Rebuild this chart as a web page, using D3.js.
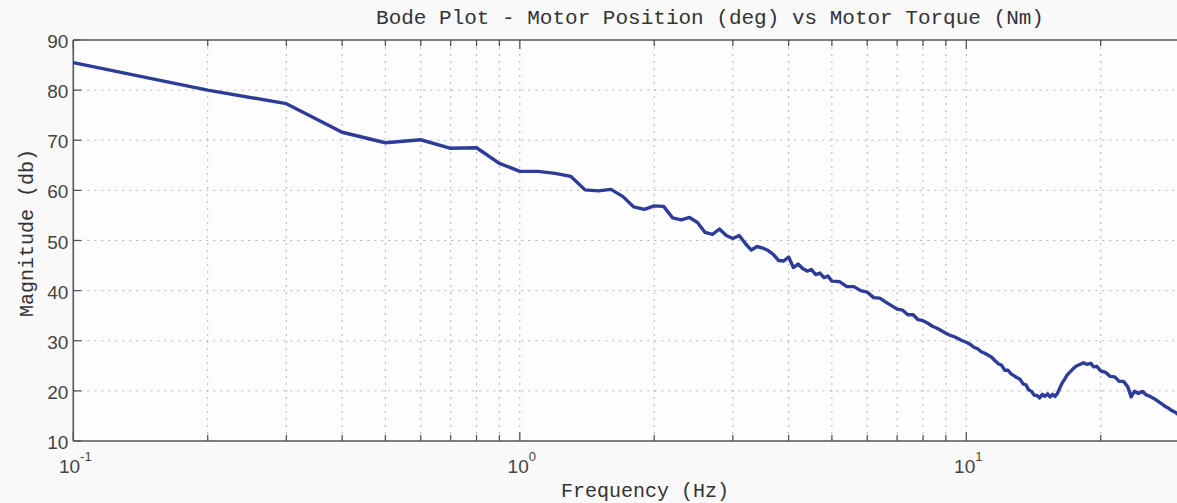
<!DOCTYPE html>
<html>
<head>
<meta charset="utf-8">
<script src="https://cdn.jsdelivr.net/npm/d3@7"></script>
<style>
  body { margin: 0; background: #f9f9f9; }
  svg { display: block; }
</style>
</head>
<body>
<div id="chart"></div>
<script>
// data (Hz, dB)
const freqHz = [
  0.1, 0.2, 0.3, 0.4, 0.5, 0.6, 0.7, 0.8, 0.9, 1.0,
  1.1, 1.2, 1.3, 1.4, 1.5, 1.6, 1.7, 1.8, 1.9, 2.0,
  2.1, 2.2, 2.3, 2.4, 2.5, 2.6, 2.7, 2.8, 2.9, 3.0,
  3.1, 3.2, 3.3, 3.4, 3.5, 3.6, 3.7, 3.8, 3.9, 4.0,
  4.1, 4.2, 4.3, 4.4, 4.5, 4.6, 4.7, 4.8, 4.9, 5.0,
  5.2, 5.4, 5.6, 5.8, 6.0, 6.2, 6.4, 6.6, 6.8, 7.0,
  7.2, 7.4, 7.6, 7.8, 8.0, 8.2, 8.4, 8.6, 8.8, 9.0,
  9.2, 9.4, 9.6, 9.8, 10.0, 10.2, 10.4, 10.6, 10.8, 11.0,
  11.2, 11.4, 11.6, 11.8, 12.0, 12.2, 12.4, 12.6, 12.8, 13.0,
  13.2, 13.4, 13.6, 13.8, 14.0, 14.2, 14.4, 14.6, 14.8, 15.0,
  15.2, 15.4, 15.6, 15.8, 16.0, 16.2, 16.4, 16.6, 16.8, 17.0,
  17.3, 17.6, 18.0, 18.3, 18.6, 19.0, 19.3, 19.6, 20.0, 20.5,
  21.0, 21.5, 22.0, 22.5, 23.0, 23.4, 23.8, 24.3, 24.8, 25.3,
  25.8, 26.3, 26.8, 27.3, 27.8, 28.3, 28.8, 29.3, 29.8
];
const magDb = [
  85.5, 80.0, 77.3, 71.6, 69.5, 70.1, 68.4, 68.5, 65.4, 63.8,
  63.8, 63.4, 62.8, 60.1, 59.9, 60.2, 58.8, 56.7, 56.2, 56.9,
  56.8, 54.5, 54.1, 54.6, 53.6, 51.6, 51.2, 52.3, 51.0, 50.4,
  51.0, 49.4, 48.1, 48.8, 48.5, 48.0, 47.2, 46.0, 45.9, 46.7,
  44.6, 45.3, 44.4, 43.9, 44.2, 43.2, 43.5, 42.6, 42.9, 41.9,
  41.8, 40.8, 40.8, 40.0, 39.7, 38.6, 38.5, 37.7, 37.0, 36.3,
  36.1, 35.2, 35.2, 34.2, 34.0, 33.5, 32.9, 32.5, 32.0, 31.5,
  31.1, 30.8, 30.4, 30.0, 29.7, 29.3, 28.7, 28.4, 27.8, 27.5,
  27.1, 26.7, 26.0, 25.4, 25.1, 24.1, 24.1, 23.4, 23.0, 22.6,
  22.3, 21.4, 21.2, 20.2, 19.9, 19.1, 19.1, 18.6, 19.3, 18.9,
  19.4, 18.8, 19.3, 18.9, 19.5, 20.6, 21.6, 22.3, 23.1, 23.6,
  24.3, 24.9, 25.3, 25.6, 25.3, 25.5, 24.8, 24.9, 24.0, 23.7,
  22.9, 22.8, 21.9, 21.9, 20.8, 18.8, 19.9, 19.5, 19.9, 19.2,
  18.9, 18.5, 18.0, 17.5, 17.0, 16.6, 16.1, 15.8, 15.3
];
const yTicks = [10, 20, 30, 40, 50, 60, 70, 80, 90];
const xMajor = [0.1, 1, 10];
const xMajorExp = ["-1", "0", "1"];
const xMinor = [0.2, 0.3, 0.4, 0.5, 0.6, 0.7, 0.8, 0.9, 2, 3, 4, 5, 6, 7, 8, 9, 20];

const W = 1177, H = 503;
const plotLeft = 73.3, plotTop = 40, plotBottom = 441;
const decade = 446.5;

const svg = d3.select("#chart").append("svg")
    .attr("width", W)
    .attr("height", H);

const x = d3.scaleLog()
    .domain([0.1, 30])
    .range([plotLeft, plotLeft + Math.log10(300) * decade]);

const y = d3.scaleLinear()
    .domain([10, 90])
    .range([plotBottom, plotTop]);

// plot background
svg.append("rect")
    .attr("x", plotLeft).attr("y", plotTop)
    .attr("width", W - plotLeft).attr("height", plotBottom - plotTop)
    .attr("fill", "#fdfdfd");

// grid
const grid = svg.append("g")
    .attr("stroke", "#b4b4b4")
    .attr("stroke-width", 1)
    .attr("stroke-dasharray", "2,5");

grid.selectAll(".vgrid")
    .data(xMinor.concat([1, 10]))
    .enter().append("line")
    .attr("x1", d => x(d)).attr("x2", d => x(d))
    .attr("y1", plotTop).attr("y2", plotBottom);

grid.selectAll(".hgrid")
    .data(yTicks.filter(d => d > 10 && d < 90))
    .enter().append("line")
    .attr("x1", plotLeft).attr("x2", W)
    .attr("y1", d => y(d)).attr("y2", d => y(d));

// axes frame
const frame = svg.append("g")
    .attr("stroke", "#555")
    .attr("stroke-width", 1.6);

frame.append("line").attr("x1", plotLeft).attr("x2", plotLeft).attr("y1", plotTop).attr("y2", plotBottom);
frame.append("line").attr("x1", plotLeft).attr("x2", W).attr("y1", plotBottom).attr("y2", plotBottom);
frame.append("line").attr("x1", plotLeft).attr("x2", W).attr("y1", plotTop).attr("y2", plotTop);

// x ticks (inward, top and bottom)
const ticks = svg.append("g").attr("stroke", "#555").attr("stroke-width", 1.3);
xMinor.concat(xMajor).forEach(f => {
  const len = xMajor.includes(f) ? 9 : 6;
  ticks.append("line").attr("x1", x(f)).attr("x2", x(f)).attr("y1", plotBottom).attr("y2", plotBottom - len);
  ticks.append("line").attr("x1", x(f)).attr("x2", x(f)).attr("y1", plotTop).attr("y2", plotTop + len);
});

// y ticks
yTicks.forEach(v => {
  ticks.append("line").attr("x1", plotLeft).attr("x2", plotLeft + 8).attr("y1", y(v)).attr("y2", y(v));
});

// y tick labels
svg.append("g").selectAll("text")
    .data(yTicks)
    .enter().append("text")
    .attr("x", plotLeft - 5)
    .attr("y", d => y(d) + 8)
    .attr("text-anchor", "end")
    .style("font-family", "'Liberation Sans', Arial, sans-serif")
    .style("font-size", "19px")
    .style("fill", "#444")
    .text(d => d);

// x tick labels 10^n
const xl = svg.append("g").selectAll("text")
    .data(xMajor)
    .enter().append("text")
    .attr("x", d => x(d) + 2)
    .attr("y", 473)
    .attr("text-anchor", "middle")
    .style("font-family", "'Liberation Sans', Arial, sans-serif")
    .style("fill", "#444");

xl.append("tspan").style("font-size", "19px").text("10");
xl.append("tspan").attr("dy", -12).style("font-size", "13px").text((d, i) => xMajorExp[i]);

// magnitude line
const line = d3.line()
    .x((d, i) => x(freqHz[i]))
    .y(d => y(d));

svg.append("path")
    .datum(magDb)
    .attr("fill", "none")
    .attr("stroke", "#2d3c98")
    .attr("stroke-width", 3.4)
    .attr("stroke-linejoin", "round")
    .attr("d", line);

// titles
const mono = "'Liberation Mono', 'Courier New', monospace";

svg.append("text")
    .attr("x", 710)
    .attr("y", 24)
    .attr("text-anchor", "middle")
    .style("font-family", mono)
    .style("font-size", "21px")
    .style("fill", "#333")
    .text("Bode Plot - Motor Position (deg) vs Motor Torque (Nm)");

svg.append("text")
    .attr("x", 645)
    .attr("y", 497)
    .attr("text-anchor", "middle")
    .style("font-family", mono)
    .style("font-size", "20px")
    .style("fill", "#333")
    .text("Frequency (Hz)");

svg.append("text")
    .attr("transform", "translate(33, 233) rotate(-90)")
    .attr("text-anchor", "middle")
    .style("font-family", mono)
    .style("font-size", "20px")
    .style("fill", "#333")
    .text("Magnitude (db)");
</script>
</body>
</html>
